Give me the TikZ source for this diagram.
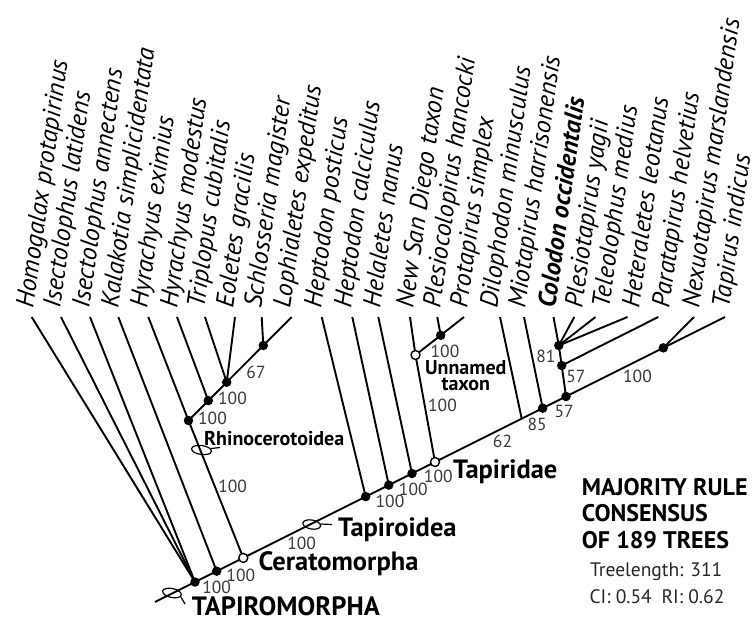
\documentclass[tikz,border=0pt]{standalone}
\usepackage{fontspec}
\setmainfont{PT Sans}
\pgfdeclarelayer{bg}
\pgfsetlayers{bg,main}
\begin{document}
\begin{tikzpicture}[x=1pt,y=-1pt,
  br/.style={line width=1.9pt},
  fdot/.style={circle,fill=black,inner sep=0pt,minimum size=9.5pt},
  odot/.style={circle,draw=black,fill=white,line width=1.4pt,inner sep=0pt,minimum size=9pt},
  taxon/.style={font=\fontsize{25.5}{25.5}\selectfont\itshape,rotate=82,anchor=base west,inner sep=0pt},
  num/.style={font=\fontsize{17.5}{17.5}\selectfont,text=black!78,inner sep=0pt},
  grp/.style={font=\fontsize{26.5}{26.5}\selectfont\bfseries,anchor=base west,inner sep=0pt},
  sgrp/.style={font=\fontsize{20}{20}\selectfont\bfseries,inner sep=0pt},
  blk/.style={font=\fontsize{24}{24}\selectfont\bfseries,anchor=base west,inner sep=0pt},
  blkr/.style={font=\fontsize{19.5}{19.5}\selectfont,text=black!85,anchor=base west,inner sep=0pt},
  ovl/.style={draw=black,line width=1.2pt}
]
\useasboundingbox (0,0) rectangle (755,622);

% tips
\coordinate (tHomo) at (31.7,317);
\coordinate (tIlat) at (61,317);
\coordinate (tIann) at (90,317);
\coordinate (tKala) at (118.3,317);
\coordinate (tHexi) at (148.3,317);
\coordinate (tHmod) at (177,317);
\coordinate (tTrip) at (205,317);
\coordinate (tEole) at (235,317);
\coordinate (tSchl) at (261.7,317);
\coordinate (tLoph) at (291.7,317);
\coordinate (tHepp) at (321.7,317);
\coordinate (tHepc) at (352.3,317);
\coordinate (tHela) at (378.3,317);
\coordinate (tNSD) at (410,317);
\coordinate (tPlco) at (437.3,317);
\coordinate (tProt) at (464,317);
\coordinate (tDilo) at (500,317);
\coordinate (tMiot) at (524,317);
\coordinate (tColo) at (553.5,317);
\coordinate (tPlta) at (574.3,317);
\coordinate (tTele) at (595.5,317);
\coordinate (tHete) at (627.5,317);
\coordinate (tPara) at (658.3,317);
\coordinate (tNexu) at (694,317);
\coordinate (tTapi) at (725,317);
\coordinate (stem) at (155,602);
\coordinate (j1) at (521.7,418.65);

% internal nodes
\node[fdot] (root) at (195,582) {};
\node[fdot] (n1) at (216.7,571.15) {};
\node[odot] (cer) at (243.3,557.85) {};
\node[fdot] (rh) at (188.5,420.5) {};
\node[fdot] (rh2) at (208.3,400.6) {};
\node[fdot] (rh3) at (226.7,382.2) {};
\node[fdot] (rh4) at (263.3,345.5) {};
\node[fdot] (t1) at (365.7,496.65) {};
\node[fdot] (t2) at (388.8,485.1) {};
\node[fdot] (t3) at (412,473.5) {};
\node[odot] (tap) at (435,462) {};
\node[odot] (un) at (415.5,355) {};
\node[fdot] (un2) at (440.7,335.3) {};
\node[fdot] (m) at (542.7,408.15) {};
\node[fdot] (c57) at (566,396.5) {};
\node[fdot] (c57b) at (561.7,365.5) {};
\node[fdot] (c81) at (558.8,345.5) {};
\node[fdot] (tp) at (663.3,347.85) {};

\begin{pgfonlayer}{bg}
\draw[br] (stem) -- (root.center) -- (n1.center) -- (cer.center) -- (t1.center) -- (t2.center) -- (t3.center) -- (tap.center) -- (j1) -- (m.center) -- (c57.center) -- (tp.center) -- (tTapi);
\draw[br] (root.center) -- (tHomo);
\draw[br] (root.center) -- (tIlat);
\draw[br] (root.center) -- (tIann);
\draw[br] (n1.center) -- (tKala);
\draw[br] (cer.center) -- (rh.center) -- (tHexi);
\draw[br] (rh.center) -- (rh2.center) -- (rh3.center) -- (rh4.center) -- (tLoph);
\draw[br] (rh2.center) -- (tHmod);
\draw[br] (rh3.center) -- (tTrip);
\draw[br] (rh3.center) -- (tEole);
\draw[br] (rh4.center) -- (tSchl);
\draw[br] (t1.center) -- (tHepp);
\draw[br] (t2.center) -- (tHepc);
\draw[br] (t3.center) -- (tHela);
\draw[br] (tap.center) -- (un.center) -- (tNSD);
\draw[br] (un.center) -- (un2.center) -- (tProt);
\draw[br] (un2.center) -- (tPlco);
\draw[br] (j1) -- (tDilo);
\draw[br] (m.center) -- (tMiot);
\draw[br] (c57.center) -- (c57b.center) -- (c81.center) -- (tColo);
\draw[br] (c81.center) -- (tPlta);
\draw[br] (c81.center) -- (tTele);
\draw[br] (c81.center) -- (tHete);
\draw[br] (c57b.center) -- (tPara);
\draw[br] (tp.center) -- (tNexu);
\end{pgfonlayer}

% ovals
\draw[ovl,rotate around={-12:(172,593)}] (172,593) ellipse [x radius=9.5, y radius=4.5];
\draw[ovl] (181,597) -- (185,604);
\draw[ovl,rotate around={-8:(201.5,450)}] (201.5,450) ellipse [x radius=10, y radius=4.5];
\draw[ovl] (211,448.5) -- (220,447.5);
\draw[ovl,rotate around={-10:(311.7,524.5)}] (311.7,524.5) ellipse [x radius=9, y radius=4.5];
\draw[ovl] (320.5,524) -- (332,524.5);

% taxon labels
\node[taxon] (lHomo) at (33,309) {Homogalax protapirinus};
\node[taxon] (lIlat) at (60,309) {Isectolophus latidens};
\node[taxon] (lIann) at (89,309) {Isectolophus annectens};
\node[taxon] (lKala) at (118,309) {Kalakotia simplicidentata};
\node[taxon] (lHexi) at (147,309) {Hyrachyus eximius};
\node[taxon] (lHmod) at (177,309) {Hyrachyus modestus};
\node[taxon] (lTrip) at (204,309) {Triplopus cubitalis};
\node[taxon] (lEole) at (233,309) {Eoletes gracilis};
\node[taxon] (lSchl) at (261,309) {Schlosseria magister};
\node[taxon] (lLoph) at (290,309) {Lophialetes expeditus};
\node[taxon] (lHepp) at (321,309) {Heptodon posticus};
\node[taxon] (lHepc) at (351,309) {Heptodon calciculus};
\node[taxon] (lHela) at (380,309) {Helaletes nanus};
\node[taxon] (lNSD) at (413,309) {New San Diego taxon};
\node[taxon] (lPlco) at (440,309) {Plesiocolopirus hancocki};
\node[taxon] (lProt) at (467,309) {Protapirus simplex};
\node[taxon] (lDilo) at (497,309) {Dilophodon minusculus};
\node[taxon] (lMiot) at (525,309) {Miotapirus harrisonensis};
\node[taxon,font=\fontsize{25.5}{25.5}\selectfont\bfseries\itshape] (lColo) at (555,309) {Colodon occidentalis};
\node[taxon] (lPlta) at (582,309) {Plesiotapirus yagii};
\node[taxon] (lTele) at (609,309) {Teleolophus medius};
\node[taxon] (lHete) at (639,309) {Heteraletes leotanus};
\node[taxon] (lPara) at (669,309) {Paratapirus helvetius};
\node[taxon] (lNexu) at (699,309) {Nexuotapirus marslandensis};
\node[taxon] (lTapi) at (729,309) {Tapirus indicus};

% support values
\node[num] (s1) at (216.7,587.3) {100};
\node[num] (s2) at (240.8,575) {100};
\node[num] (s3) at (232.7,486.7) {100};
\node[num] (s4) at (212.5,418.3) {100};
\node[num] (s5) at (232.5,398.3) {100};
\node[num] (s6) at (256,372.7) {67};
\node[num] (s7) at (301.7,543.3) {100};
\node[num] (s8) at (390,501.7) {100};
\node[num] (s9) at (413.3,489.3) {100};
\node[num] (s10) at (438.3,476.7) {100};
\node[num] (s11) at (442.5,405) {100};
\node[num] (s12) at (445,351.7) {100};
\node[num] (s13) at (502.5,441) {62};
\node[num] (s14) at (537.2,424.3) {85};
\node[num] (s15) at (564.2,411.7) {57};
\node[num] (s16) at (575.8,376) {57};
\node[num] (s17) at (545.8,356.7) {81};
\node[num] (s18) at (637.5,376) {100};

% group names
\node[sgrp,anchor=base west] (gRhi) at (204,445) {Rhinocerotoidea};
\node[grp] (gCer) at (258.3,570) {Ceratomorpha};
\node[grp] (gTpd) at (338,536.7) {Tapiroidea};
\node[grp] (gTap) at (453,478.3) {Tapiridae};
\node[grp] (gTmo) at (191.7,615.5) {TAPIROMORPHA};
\node[sgrp,align=center,font=\fontsize{20}{16}\selectfont\bfseries] (gUn) at (465.8,375.5) {Unnamed\\taxon};

% info block
\node[blk] (b1) at (581.7,495) {MAJORITY RULE};
\node[blk] (b2) at (581.7,521.7) {CONSENSUS};
\node[blk] (b3) at (581.7,548.3) {OF 189 TREES};
\node[blkr] (b4) at (590,576.7) {Treelength: 311};
\node[blkr] (b5) at (589.3,603.3) {CI: 0.54\hspace{0.5em}RI: 0.62};
\end{tikzpicture}
\end{document}
